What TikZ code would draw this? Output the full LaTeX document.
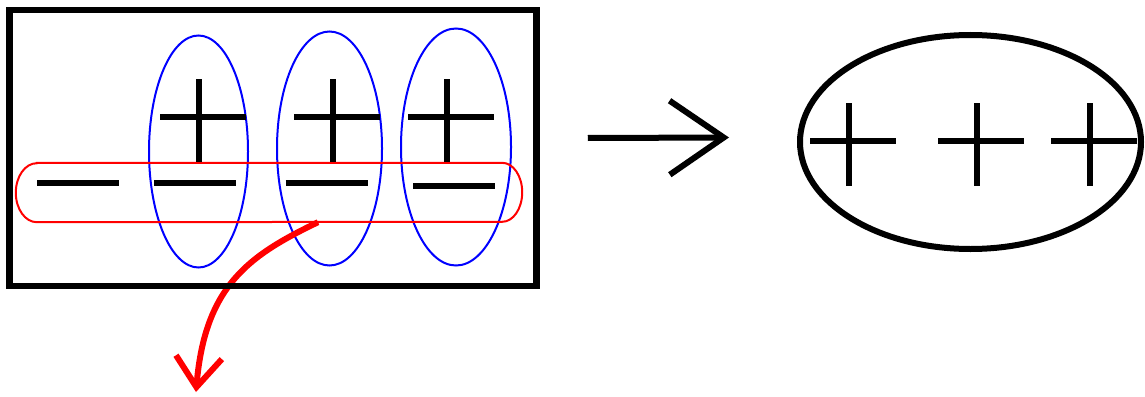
\documentclass[tikz,border=0pt]{standalone}
\usepackage{tikz}
\usetikzlibrary{positioning,arrows.meta,calc,shapes.geometric}
\definecolor{pairblue}{RGB}{0,0,255}
\definecolor{chainred}{RGB}{255,0,0}

\begin{document}
\begin{tikzpicture}[x=1pt,y=-1pt,
    frame/.style={draw,line width=6.5pt,inner sep=0pt,minimum width=527pt,minimum height=276pt},
    pairloop/.style={ellipse,draw=pairblue,line width=2pt,inner sep=0pt},
    chainloop/.style={rectangle,inner sep=0pt,minimum width=465pt,minimum height=59pt},
    chainline/.style={draw=chainred,line width=2pt},
    sign/.style={line width=6.5pt},
    plussign/.pic={\draw[sign] (-39,0) -- (47,0) (0,-38) -- (0,45);},
    minussign/.pic={\draw[sign] (-41,0) -- (41,0);}]
  \useasboundingbox (0,0) rectangle (1145,396);
  % blue pairs
  \node[pairloop,minimum width=99pt,minimum height=232pt] (pair1) at (198.5,151.5) {};
  \node[pairloop,minimum width=105pt,minimum height=234pt] (pair2) at (329.5,148.5) {};
  \node[pairloop,minimum width=110pt,minimum height=237pt] (pair3) at (456,147) {};
  % red chain and its pointer
  \node[chainloop] (chain) at (269.5,192.5) {};
  \draw[chainline] (chain.north west) -- (chain.north east)
    arc[start angle=-90,end angle=90,x radius=20,y radius=29.5] -- (chain.south west)
    arc[start angle=90,end angle=270,x radius=21,y radius=29.5] -- cycle;
  \coordinate (drop) at (196,392);
  \draw[chainred,line width=6pt,-{Straight Barb[length=30pt,width=46pt]}]
    ([xshift=48.5pt]chain.south) .. controls (250,255) and (205,285) .. (drop);
  % charges
  \foreach \x in {199,333,447} \pic at (\x,117) {plussign};
  \foreach \x/\y in {78/183,195/183,326.5/183,454/186} \pic at (\x,\y) {minussign};
  \node[frame] (box) at (273,148) {};
  % result
  \node[ellipse,draw,line width=6pt,inner sep=0pt,minimum width=341pt,minimum height=214pt]
    (whole) at (970.5,142) {};
  \foreach \x in {849,977,1090} \pic at (\x,141) {plussign};
  \draw[line width=6pt,-{Straight Barb[length=54pt,width=74pt]}]
    ([xshift=48pt,yshift=10pt]box.east) -- ([xshift=-68pt,yshift=4.5pt]whole.west);
\end{tikzpicture}
\end{document}
